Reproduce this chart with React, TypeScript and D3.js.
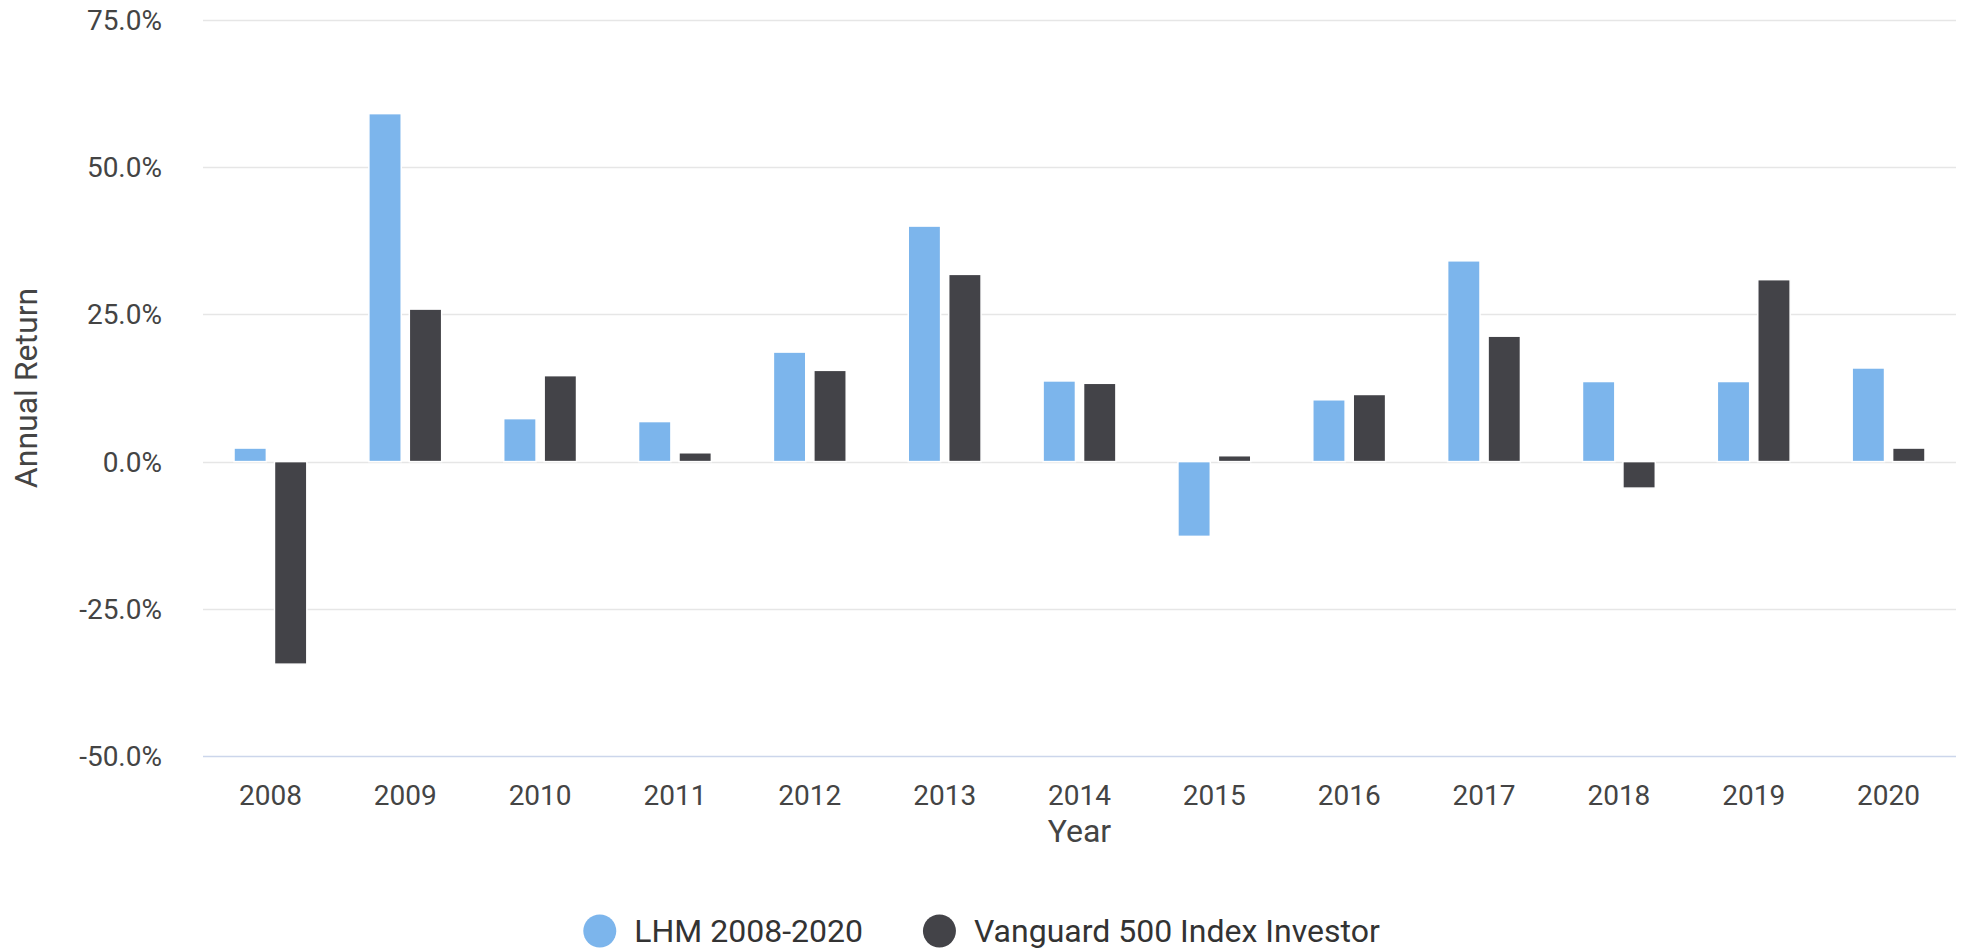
import React, { useEffect, useRef } from "react";
import * as d3 from "d3";

const years = ["2008", "2009", "2010", "2011", "2012", "2013", "2014", "2015", "2016", "2017", "2018", "2019", "2020"];
const lhmReturns = [2.3, 59.1, 7.3, 6.8, 18.6, 40.0, 13.7, -12.7, 10.5, 34.1, 13.6, 13.6, 15.9];
const vanguardReturns = [-34.4, 25.9, 14.6, 1.5, 15.5, 31.8, 13.3, 1.0, 11.4, 21.3, -4.5, 30.9, 2.3];
const seriesNames = ["LHM 2008-2020", "Vanguard 500 Index Investor"];
const seriesColors = ["#7cb5ec", "#434348"];
const yTicks = [-50, -25, 0, 25, 50, 75];

const styles = {
  svg: {
    position: "absolute" as const,
    left: 0,
    top: 0,
    fontFamily: "Roboto, sans-serif",
  },
};

const App = () => {
  const svgRef = useRef<SVGSVGElement>(null);

  useEffect(() => {
    d3.select(svgRef.current).selectAll("*").remove();
    const width = 1963;
    const height = 952;
    const margin = { top: 20, right: 7, bottom: 196, left: 203 };
    const svg = d3.select(svgRef.current).attr("width", width).attr("height", height);

    const x = d3
      .scaleBand()
      .domain(years)
      .range([margin.left, width - margin.right])
      .paddingInner(0)
      .paddingOuter(0);
    const bw = x.bandwidth();
    // highcharts-like grouping: groupPadding 0.2, pointPadding 0.1
    const xInner = d3
      .scaleBand()
      .domain(seriesNames)
      .range([0.2 * bw, 0.8 * bw])
      .paddingInner(0.2)
      .paddingOuter(0.1);
    const y = d3
      .scaleLinear()
      .domain([-50, 75])
      .range([height - margin.bottom, margin.top]);

    // grid lines
    svg
      .append("g")
      .selectAll("line")
      .data(yTicks.filter((t) => t !== -50))
      .join("line")
      .attr("x1", margin.left)
      .attr("x2", width - margin.right)
      .attr("y1", (d) => Math.round(y(d)) + 0.5)
      .attr("y2", (d) => Math.round(y(d)) + 0.5)
      .attr("stroke", "#e6e6e6")
      .attr("stroke-width", 1.5);

    // x axis line
    svg
      .append("line")
      .attr("x1", margin.left)
      .attr("x2", width - margin.right)
      .attr("y1", Math.round(y(-50)) + 0.5)
      .attr("y2", Math.round(y(-50)) + 0.5)
      .attr("stroke", "#ccd6eb")
      .attr("stroke-width", 1.5);

    // y labels
    svg
      .append("g")
      .selectAll("text")
      .data(yTicks)
      .join("text")
      .attr("x", 162)
      .attr("y", (d) => y(d) + 10)
      .attr("text-anchor", "end")
      .style("font-size", "28px")
      .style("fill", "#444")
      .text((d) => `${d.toFixed(1)}%`);

    // y title
    svg
      .append("text")
      .attr("transform", `translate(37, ${(y(75) + y(-50)) / 2}) rotate(-90)`)
      .attr("text-anchor", "middle")
      .style("font-size", "32px")
      .style("fill", "#444")
      .text("Annual Return");

    // x labels
    svg
      .append("g")
      .selectAll("text")
      .data(years)
      .join("text")
      .attr("x", (d) => (x(d) as number) + bw / 2)
      .attr("y", 805)
      .attr("text-anchor", "middle")
      .style("font-size", "28px")
      .style("fill", "#444")
      .text((d) => d);

    svg
      .append("text")
      .attr("x", (margin.left + width - margin.right) / 2)
      .attr("y", 842)
      .attr("text-anchor", "middle")
      .style("font-size", "32px")
      .style("fill", "#444")
      .text("Year");

    // bars
    const seriesValues = [lhmReturns, vanguardReturns];
    seriesNames.forEach((name, si) => {
      svg
        .append("g")
        .selectAll("rect")
        .data(seriesValues[si])
        .join("rect")
        .attr("x", (d, i) => (x(years[i]) as number) + (xInner(name) as number))
        .attr("width", xInner.bandwidth())
        .attr("y", (d) => y(Math.max(0, d)))
        .attr("height", (d) => Math.abs(y(d) - y(0)))
        .attr("fill", seriesColors[si])
        .attr("stroke", "#ffffff")
        .attr("stroke-width", 1.5);
    });

    // legend
    const legend = svg.append("g");
    const items = legend
      .selectAll("g")
      .data(seriesNames)
      .join("g");
    items
      .append("circle")
      .attr("r", 16.5)
      .attr("cx", 16.5)
      .attr("cy", 0)
      .attr("fill", (d, i) => seriesColors[i]);
    items
      .append("text")
      .attr("x", 51)
      .attr("y", 11)
      .style("font-size", "32px")
      .style("fill", "#333")
      .text((d) => d);
    let offset = 0;
    const gap = 60;
    items.each(function () {
      const g = d3.select(this);
      const tw = (g.select("text").node() as SVGTextElement).getComputedTextLength();
      g.attr("transform", `translate(${offset}, 0)`);
      offset += 51 + tw + gap;
    });
    const totalWidth = offset - gap;
    legend.attr("transform", `translate(${(width - totalWidth) / 2}, 931)`);
  }, []);

  return <svg ref={svgRef} style={styles.svg}></svg>;
};

export default App;
